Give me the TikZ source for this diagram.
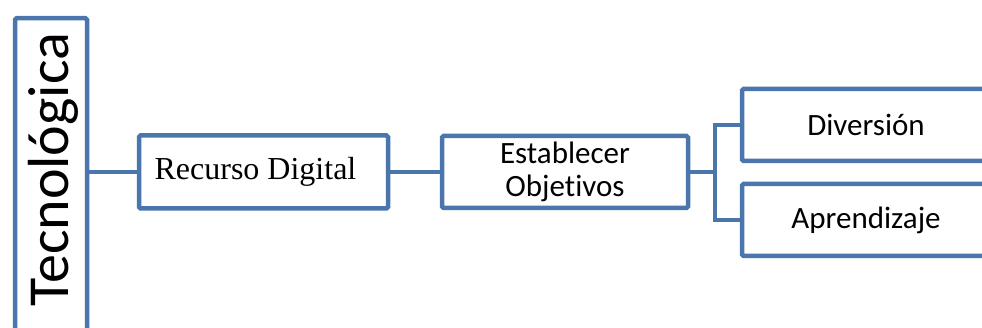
\documentclass[tikz,border=0pt]{standalone}
\usepackage{fontspec}
\setmainfont{Carlito}[Ligatures = NoCommon]
\newfontfamily\cambriafont{Liberation Serif}
\definecolor{boxblue}{RGB}{74,118,172}

\begin{document}
\begin{tikzpicture}[x = 1pt, y = -1pt,
    every node/.style = {inner sep = 0pt, font = \fontsize{31}{33}\selectfont},
    box/.style = {draw = boxblue, line width = 4.5pt, rounded corners = 1.5pt,
        fill = white, minimum height = 72pt},
    link/.style = {draw = boxblue, line width = 4.5pt}]
    \useasboundingbox (0,0) rectangle (982,328);
    \clip (0,0) rectangle (982,328);
    % boxes
    \node[box, anchor = north, minimum width = 72pt, minimum height = 340pt] (tech) at (51,16) {};
    \node[rotate = 90, anchor = base, font = \fontsize{58}{62}\selectfont] (techlabel) at (68,170) {Tecnológica};
    \node[box, minimum width = 249pt, minimum height = 73pt,
        font = \cambriafont\fontsize{32}{34}\selectfont] (recurso) at (263.5,172) {Recurso Digital\hspace*{16pt}};
    \node[box, minimum width = 246pt, align = center] (objetivos) at (565,172) {Establecer\\Objetivos};
    \node[box, minimum width = 248pt] (diversion) at (866,125) {Diversión};
    \node[box, minimum width = 248pt] (aprendizaje) at (866,220) {Aprendizaje};
    % connectors
    \coordinate (fork) at (715,172);
    \draw[link] (tech.east |- recurso.west) -- (recurso.west);
    \draw[link] (recurso.east) -- (objetivos.west);
    \draw[link] (objetivos.east) -- (fork);
    \draw[link] (diversion.west) -| (fork) |- (aprendizaje.west);
\end{tikzpicture}
\end{document}
